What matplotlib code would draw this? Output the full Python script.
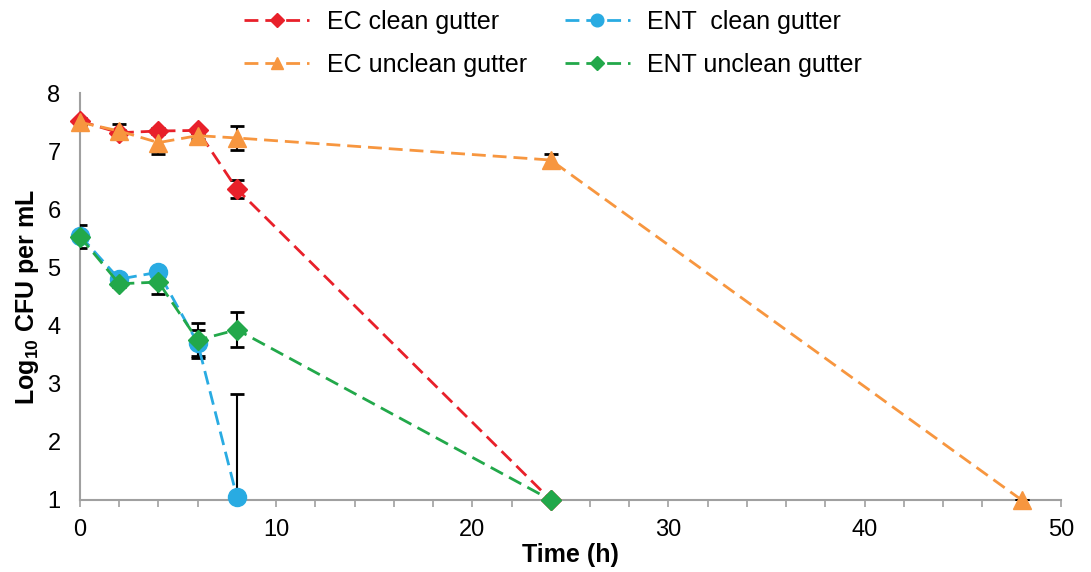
import numpy as np
import matplotlib
matplotlib.use("Agg")
import matplotlib.pyplot as plt

plt.rcParams['font.family'] = ['Liberation Sans', 'DejaVu Sans']
plt.rcParams['mathtext.fontset'] = 'custom'
plt.rcParams['mathtext.rm'] = 'Liberation Sans:bold'

# data
ec_clean_t = [0, 2, 4, 6, 8, 24]
ec_clean_y = [7.52, 7.32, 7.35, 7.36, 6.35, 1.0]
ec_clean_err = [0.05, 0.05, 0.05, 0.05, 0.15, 0.0]

ec_unclean_t = [0, 2, 4, 6, 8, 24, 48]
ec_unclean_y = [7.50, 7.35, 7.15, 7.27, 7.23, 6.85, 1.0]
ec_unclean_err = [0.05, 0.12, 0.2, 0.05, 0.2, 0.1, 0.0]

ent_clean_t = [0, 2, 4, 6, 8]
ent_clean_y = [5.55, 4.80, 4.92, 3.70, 1.05]
ent_clean_lo = [0.05, 0.05, 0.08, 0.22, 0.0]
ent_clean_hi = [0.05, 0.05, 0.08, 0.22, 1.77]

ent_unclean_t = [0, 2, 4, 6, 8, 24]
ent_unclean_y = [5.53, 4.72, 4.75, 3.75, 3.93, 1.0]
ent_unclean_err = [0.2, 0.05, 0.2, 0.3, 0.3, 0.0]

red = '#e8202a'
orange = '#f7963f'
blue = '#29abe2'
green = '#22a84a'

fig = plt.figure(figsize=(10.91, 5.72), dpi=100)
ax = fig.add_axes([0.0733, 0.126, 0.899, 0.711])

dash = (5, 2.5)
ekw = dict(ecolor='black', elinewidth=1.5, capsize=5, capthick=2, zorder=1)

ax.errorbar(ec_clean_t, ec_clean_y, yerr=ec_clean_err, fmt='none', **ekw)
ax.errorbar(ec_unclean_t, ec_unclean_y, yerr=ec_unclean_err, fmt='none', **ekw)
ax.errorbar(ent_clean_t, ent_clean_y, yerr=[ent_clean_lo, ent_clean_hi], fmt='none', **ekw)
ax.errorbar(ent_unclean_t, ent_unclean_y, yerr=ent_unclean_err, fmt='none', **ekw)

l1, = ax.plot(ec_clean_t, ec_clean_y, color=red, lw=2, dashes=dash, marker='D',
              ms=10.5, label='EC clean gutter', zorder=3, clip_on=False)
l2, = ax.plot(ec_unclean_t, ec_unclean_y, color=orange, lw=2, dashes=dash, marker='^',
              ms=13, label='EC unclean gutter', zorder=4, clip_on=False)
l3, = ax.plot(ent_clean_t, ent_clean_y, color=blue, lw=2, dashes=dash, marker='o',
              ms=13, label='ENT  clean gutter', zorder=3, clip_on=False)
l4, = ax.plot(ent_unclean_t, ent_unclean_y, color=green, lw=2, dashes=dash, marker='D',
              ms=10.5, label='ENT unclean gutter', zorder=4, clip_on=False)

ax.set_xlim(0, 50)
ax.set_ylim(1, 8)
ax.set_xticks(np.arange(0, 51, 10))
ax.set_xticks(np.arange(0, 51, 2), minor=True)
ax.set_yticks(np.arange(1, 9, 1))

for s in ['top', 'right']:
    ax.spines[s].set_visible(False)
for s in ['left', 'bottom']:
    ax.spines[s].set_color('#a0a0a0')
    ax.spines[s].set_linewidth(1.5)
ax.spines['left'].set_zorder(0)
ax.spines['bottom'].set_zorder(0)

ax.tick_params(axis='x', which='both', direction='out', colors='#a0a0a0', labelcolor='black',
               labelsize=17, length=5, width=1.2, pad=9)
ax.tick_params(axis='y', length=0, labelsize=17, pad=14)

ax.set_xlabel('Time (h)', fontsize=18, fontweight='bold')
ax.xaxis.set_label_coords(0.5, -0.105)
ax.set_ylabel(r'Log$_\mathrm{10}$ CFU per mL', fontsize=18, fontweight='bold')
ax.yaxis.set_label_coords(-0.040, 0.5)

leg = fig.legend(handles=[l1, l2, l3, l4], loc='center', bbox_to_anchor=(0.507, 0.924),
                 ncol=2, frameon=False, fontsize=18, handlelength=2.6, handletextpad=0.7,
                 columnspacing=1.5, labelspacing=0.78, markerscale=0.7)

fig.savefig('out.png', dpi=100)
